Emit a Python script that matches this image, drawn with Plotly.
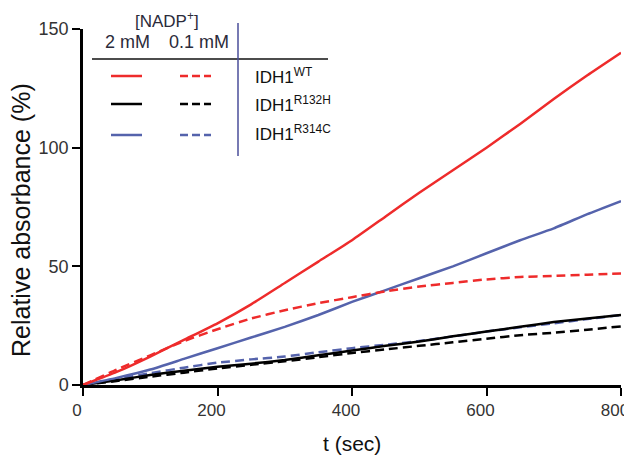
import plotly.graph_objects as go

t = [0, 50, 100, 150, 200, 250, 300, 350, 400, 450, 500, 550, 600, 650, 700, 750, 800]

wt_2mM = [0, 5.5, 12, 19, 26, 34, 43, 52, 61, 71, 81, 90.5, 100, 110, 120.5, 130.5, 140]
wt_01mM = [0, 6.5, 12.5, 18.5, 23.5, 28, 31.5, 34.5, 37, 39.5, 41.5, 43, 44.5, 45.5, 46, 46.5, 47]
r132h_2mM = [0, 2, 4.2, 6, 7.7, 9, 10.5, 12.5, 14.5, 16.5, 18.3, 20.5, 22.5, 24.5, 26.5, 28, 29.5]
r132h_01mM = [0, 1.7, 3.5, 5.2, 7, 8.5, 10, 11.7, 13.5, 15, 16.5, 18, 19.5, 21, 22, 23.3, 24.7]
r314c_2mM = [0, 3, 6.5, 11, 15.5, 20, 24.5, 29.5, 35, 40, 45, 50, 55.5, 61, 66, 72, 77.5]
r314c_01mM = [0, 2.5, 5, 7.3, 9.4, 10.8, 12, 13.8, 15.5, 17, 18.5, 20.5, 22.5, 24.3, 26, 27.8, 29.5]

x_ticks = [0, 200, 400, 600, 800]
y_ticks = [0, 50, 100, 150]

RED = "#ee2b2b"
BLACK = "#000000"
BLUE = "#5563ac"
DASH = "9px,5px"

series = [
    (r132h_01mM, BLACK, DASH),
    (r314c_01mM, BLUE, DASH),
    (r132h_2mM, BLACK, "solid"),
    (r314c_2mM, BLUE, "solid"),
    (wt_01mM, RED, DASH),
    (wt_2mM, RED, "solid"),
]

fig = go.Figure()
for ys, col, dash in series:
    fig.add_trace(go.Scatter(x=t, y=ys, mode="lines",
                             line=dict(color=col, width=2.5, dash=dash,
                                       shape="spline", smoothing=0.5),
                             showlegend=False))

# page coordinates of plot area (page has an 8px body margin)
OFF = 8
L, R, T, B = 83, 621, 29, 385
W, H = 632 - OFF, 458 - OFF

def px(x):
    return (x - L) / (R - L)

def py(y):
    return (B - y) / (B - T)

shapes = []
annots = []
TXT = "#2b2b3a"

shapes.append(dict(type="line", xref="paper", yref="paper",
                   x0=px(92), x1=px(328), y0=py(59), y1=py(59),
                   line=dict(color="#111111", width=1.5)))
shapes.append(dict(type="line", xref="paper", yref="paper",
                   x0=px(238), x1=px(238), y0=py(23), y1=py(156),
                   line=dict(color="#4a4e9a", width=1.5)))

rows = [(76, RED, "IDH1<sup>WT</sup>", 76),
        (104, BLACK, "IDH1<sup>R132H</sup>", 104),
        (135, BLUE, "IDH1<sup>R314C</sup>", 133)]
for yy, col, lab, ly in rows:
    shapes.append(dict(type="line", xref="paper", yref="paper",
                       x0=px(111), x1=px(142), y0=py(yy), y1=py(yy),
                       line=dict(color=col, width=2.5)))
    shapes.append(dict(type="line", xref="paper", yref="paper",
                       x0=px(180), x1=px(211), y0=py(yy), y1=py(yy),
                       line=dict(color=col, width=2.5, dash="8px,4px")))
    annots.append(dict(xref="paper", yref="paper", x=px(253), y=py(ly),
                       text=lab, showarrow=False, xanchor="left", yanchor="middle",
                       font=dict(size=17, color="#111111")))

annots.append(dict(xref="paper", yref="paper", x=px(167), y=py(20),
                   text="[NADP<sup>+</sup>]", showarrow=False,
                   xanchor="center", yanchor="middle",
                   font=dict(size=17, color=TXT)))
annots.append(dict(xref="paper", yref="paper", x=px(127), y=py(42),
                   text="2 mM", showarrow=False, xanchor="center", yanchor="middle",
                   font=dict(size=18, color=TXT)))
annots.append(dict(xref="paper", yref="paper", x=px(199), y=py(42),
                   text="0.1 mM", showarrow=False, xanchor="center", yanchor="middle",
                   font=dict(size=18, color=TXT)))

# axis titles
annots.append(dict(xref="paper", yref="paper", x=px(352), y=py(443),
                   text="t (sec)", showarrow=False, xanchor="center", yanchor="middle",
                   font=dict(size=21, color="#111111")))
annots.append(dict(xref="paper", yref="paper", x=px(21), y=py(220),
                   text="Relative absorbance (%)", showarrow=False, textangle=-90,
                   xanchor="center", yanchor="middle",
                   font=dict(size=25, color="#111111")))

fig.update_layout(
    width=W, height=H,
    margin=dict(l=L - OFF, r=(632 - R), t=T - OFF, b=(458 - B), autoexpand=False),
    paper_bgcolor="white", plot_bgcolor="white",
    font=dict(family="Liberation Sans, Arial, sans-serif", color="#333333"),
    shapes=shapes, annotations=annots,
    xaxis=dict(range=[0, 800], tickvals=x_ticks, automargin=False,
               showgrid=False, zeroline=False, showline=True,
               linecolor="black", linewidth=2.5, ticks="outside",
               ticklen=8, tickwidth=2, tickcolor="black",
               ticklabeloverflow="allow", ticklabelshift=-6,
               tickfont=dict(size=17, color="#333333")),
    yaxis=dict(range=[0, 150], tickvals=y_ticks, automargin=False,
               showgrid=False, zeroline=False, showline=True,
               linecolor="black", linewidth=2.5, ticks="outside",
               ticklen=8, tickwidth=2, tickcolor="black",
               ticklabeloverflow="allow",
               tickfont=dict(size=18, color="#333333")),
)

fig.write_html("out.html")
